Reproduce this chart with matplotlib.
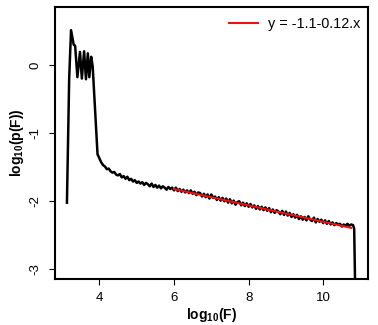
import numpy as np
import matplotlib
matplotlib.use("Agg")
import matplotlib.pyplot as plt

plt.rcParams['font.family'] = ['Liberation Sans', 'DejaVu Sans']
plt.rcParams['mathtext.fontset'] = 'custom'
plt.rcParams['mathtext.rm'] = 'Liberation Sans'
plt.rcParams['mathtext.bf'] = 'Liberation Sans:bold'

# ---- data ----
head_x = [3.13, 3.19, 3.24, 3.31, 3.35, 3.41, 3.48, 3.53, 3.59, 3.64, 3.69, 3.73, 3.78, 3.82]
head_y = [-2.02, -0.20, 0.51, 0.30, 0.28, -0.18, 0.19, -0.20, 0.20, -0.21, 0.17, -0.18, 0.12, -0.02]

tail_x = np.round(np.arange(3.95, 10.801, 0.05), 2)
tail_y = [
    -1.31, -1.37, -1.43, -1.47, -1.49, -1.53, -1.52, -1.56, -1.58, -1.57,
    -1.61, -1.62, -1.60, -1.65, -1.63, -1.67, -1.64, -1.69, -1.67, -1.71,
    -1.69, -1.73, -1.71, -1.74, -1.72, -1.76, -1.73, -1.75, -1.78, -1.74,
    -1.79, -1.76, -1.80, -1.77, -1.81, -1.78, -1.80, -1.83, -1.79, -1.82,
    -1.80, -1.84, -1.80, -1.85, -1.82, -1.86, -1.83, -1.87, -1.84, -1.88,
    -1.84, -1.89, -1.86, -1.91, -1.87, -1.88, -1.93, -1.89, -1.94, -1.90,
    -1.96, -1.90, -1.95, -1.93, -1.98, -1.94, -1.99, -1.95, -2.00, -1.96,
    -2.02, -1.97, -2.03, -1.99, -2.05, -2.01, -2.00, -2.06, -2.02, -2.07,
    -2.03, -2.08, -2.04, -2.09, -2.06, -2.11, -2.07, -2.12, -2.08, -2.13,
    -2.09, -2.14, -2.10, -2.16, -2.12, -2.17, -2.13, -2.15, -2.19, -2.14,
    -2.20, -2.15, -2.21, -2.17, -2.23, -2.19, -2.24, -2.20, -2.26, -2.22,
    -2.27, -2.23, -2.28, -2.22, -2.27, -2.29, -2.24, -2.31, -2.26, -2.30,
    -2.27, -2.32, -2.28, -2.33, -2.29, -2.34, -2.31, -2.35, -2.32, -2.34,
    -2.33, -2.37, -2.34, -2.36, -2.33, -2.36, -2.34, -2.35,
]
end_x = [10.83, 10.86]
end_y = [-2.40, -3.40]

fit_intercept = -1.1
fit_slope = -0.12
fit_range = [6.0, 10.75]

x_ticks = [4, 6, 8, 10]
y_ticks = [-3, -2, -1, 0]

# ---- plot ----
xs = list(head_x) + list(tail_x) + end_x
ys = list(head_y) + list(tail_y) + end_y

fig = plt.figure(figsize=(3.78, 3.25), dpi=100)
ax = fig.add_axes([0.1455, 0.1415, 0.828, 0.837])

ax.plot(xs, ys, color='black', lw=1.8, solid_joinstyle='round')
fx = np.array(fit_range)
ax.plot(fx, fit_intercept + fit_slope * fx, color='#ee1111', lw=1.5,
        label='y = -1.1-0.12.x')

ax.set_xlim(2.81, 11.2)
ax.set_ylim(-3.14, 0.85)
ax.set_xticks(x_ticks)
ax.set_yticks(y_ticks)
ax.set_xticklabels([str(t) for t in x_ticks])
ax.set_yticklabels([str(t) for t in y_ticks], rotation=90, va='center')
ax.tick_params(direction='out', length=4.5, width=0.8, labelsize=9.5, pad=5)

for s in ax.spines.values():
    s.set_linewidth(1.5)

ax.set_xlabel(r'$\mathbf{log_{10}(F)}$', fontsize=10, labelpad=1)
ax.set_ylabel(r'$\mathbf{log_{10}(p(F))}$', fontsize=10, labelpad=3)

ax.legend(loc='upper right', bbox_to_anchor=(1.0, 0.99), frameon=False,
          fontsize=10.4, handlelength=1.95, borderaxespad=0.1,
          handletextpad=0.75)

fig.savefig('out.png', dpi=100)
